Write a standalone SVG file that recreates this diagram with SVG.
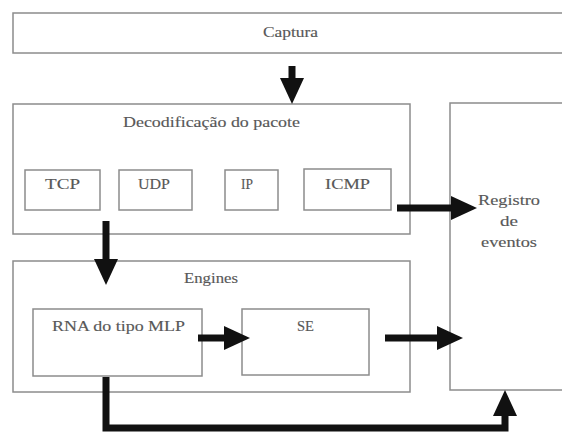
<svg xmlns="http://www.w3.org/2000/svg" width="562" height="432" viewBox="0 0 562 432">
  <style>
    .box { fill: #ffffff; stroke: #8c8c8c; stroke-width: 1.5; }
    .lbl { font-family: "Liberation Serif", "Times New Roman", "DejaVu Serif", serif; font-size: 15px; fill: #585858; stroke: #585858; stroke-width: 0.15; }
    .conn { fill: none; stroke: #111111; stroke-width: 7; stroke-linejoin: miter; }
  </style>
  <defs>
    <marker id="head" markerUnits="userSpaceOnUse" markerWidth="30" markerHeight="30" viewBox="-2 -13 30 26" refX="0" refY="0" orient="auto">
      <path d="M-1,-12 L25,0 L-1,12 z" fill="#111111"/>
    </marker>
  </defs>
  <rect width="562" height="432" fill="#ffffff"/>

  <g id="captura">
    <rect class="box" x="13" y="13" width="560" height="40"/>
    <text class="lbl" x="263" y="37" textLength="55" lengthAdjust="spacingAndGlyphs">Captura</text>
  </g>

  <g id="decodificacao">
    <rect class="box" x="13" y="104" width="397" height="130"/>
    <text class="lbl" x="123" y="127" textLength="177" lengthAdjust="spacingAndGlyphs">Decodificação do pacote</text>
  </g>

  <g id="tcp">
    <rect class="box" x="25" y="170" width="75" height="40"/>
    <text class="lbl" x="45" y="189" textLength="35" lengthAdjust="spacingAndGlyphs">TCP</text>
  </g>
  <g id="udp">
    <rect class="box" x="119" y="170" width="73" height="40"/>
    <text class="lbl" x="138" y="189" textLength="32" lengthAdjust="spacingAndGlyphs">UDP</text>
  </g>
  <g id="ip">
    <rect class="box" x="225" y="170" width="53" height="40"/>
    <text class="lbl" x="241" y="189" textLength="12" lengthAdjust="spacingAndGlyphs">IP</text>
  </g>
  <g id="icmp">
    <rect class="box" x="304" y="169" width="87" height="41"/>
    <text class="lbl" x="325" y="189" textLength="45" lengthAdjust="spacingAndGlyphs">ICMP</text>
  </g>

  <g id="registro">
    <rect class="box" x="450" y="103" width="130" height="287"/>
    <text class="lbl" x="478" y="205" textLength="62" lengthAdjust="spacingAndGlyphs">Registro</text>
    <text class="lbl" x="500" y="226" textLength="18" lengthAdjust="spacingAndGlyphs">de</text>
    <text class="lbl" x="481" y="247" textLength="56" lengthAdjust="spacingAndGlyphs">eventos</text>
  </g>

  <g id="engines">
    <rect class="box" x="13" y="261" width="397" height="131"/>
    <text class="lbl" x="184" y="283" textLength="54" lengthAdjust="spacingAndGlyphs">Engines</text>
  </g>
  <g id="rna">
    <rect class="box" x="33" y="309" width="169" height="67"/>
    <text class="lbl" x="52" y="331" textLength="133" lengthAdjust="spacingAndGlyphs">RNA do tipo MLP</text>
  </g>
  <g id="se">
    <rect class="box" x="242" y="309" width="127" height="66"/>
    <text class="lbl" x="297" y="331" textLength="17" lengthAdjust="spacingAndGlyphs">SE</text>
  </g>

  <g id="connectors">
    <line class="conn" x1="292" y1="66" x2="292" y2="79" marker-end="url(#head)"/>
    <line class="conn" x1="106" y1="221" x2="106" y2="260" marker-end="url(#head)"/>
    <line class="conn" x1="397" y1="208" x2="452" y2="208" marker-end="url(#head)"/>
    <line class="conn" x1="198" y1="338" x2="225" y2="338" marker-end="url(#head)"/>
    <line class="conn" x1="385" y1="338" x2="438" y2="338" marker-end="url(#head)"/>
    <polyline class="conn" points="106,377 106,428 505,428 505,415" marker-end="url(#head)"/>
  </g>
</svg>
